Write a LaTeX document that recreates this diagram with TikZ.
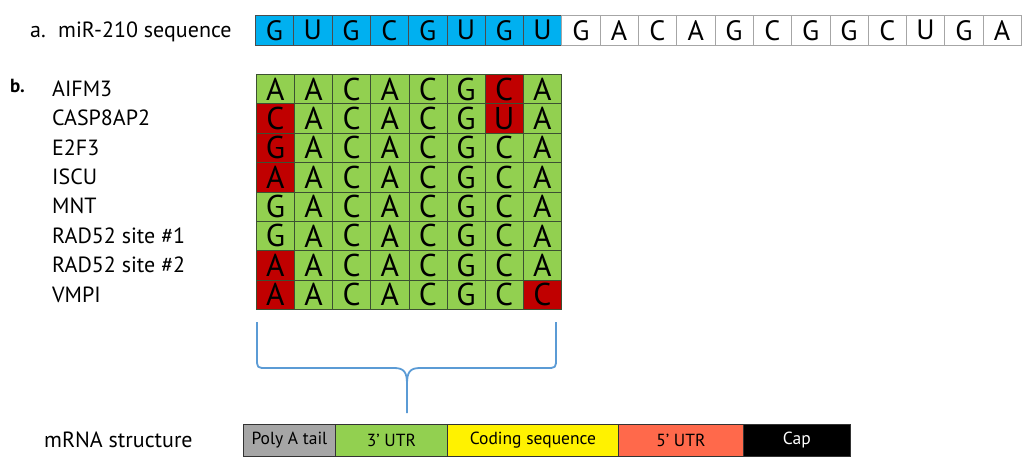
\documentclass[tikz,border=0pt]{standalone}
\usepackage{fontspec}
\setmainfont{PT Sans}
\definecolor{seqblue}{RGB}{0,176,240}
\definecolor{cellgreen}{RGB}{146,208,80}
\definecolor{cellred}{RGB}{192,0,0}
\definecolor{gridline}{RGB}{60,80,50}
\definecolor{tailgrey}{RGB}{166,166,166}
\definecolor{utrorange}{RGB}{255,105,75}
\definecolor{bracketblue}{RGB}{91,155,213}
\begin{document}
\begin{tikzpicture}[x=1pt,y=-1pt,
  seqcell/.style={draw=#1, line width=0.6pt, minimum width=38.3pt, minimum height=30pt, inner sep=0pt, anchor=north west, font=\fontsize{28}{28}\selectfont},
  gridcell/.style={draw=gridline, line width=0.7pt, fill=#1, minimum width=38.125pt, minimum height=29.375pt, inner sep=0pt, anchor=north west, font=\fontsize{31.5}{31.5}\selectfont},
  labeltext/.style={anchor=west, inner sep=0pt, font=\fontsize{22}{24}\selectfont},
  segbox/.style={draw=black!80, line width=0.8pt, fill=#1, minimum height=32pt, inner sep=0pt, anchor=north west, font=\fontsize{17.5}{19}\selectfont},
  bracket/.style={draw=bracketblue, line width=1.8pt, line join=round}
]
\useasboundingbox (0,0) rectangle (1024,464);
% (a) miR-210 sequence
\node[labeltext] (alabel) at (30,32) {a.};
\node[labeltext] (seqlabel) at (58,32) {miR-210 sequence};
\foreach \l [count=\i from 0] in {G,U,G,C,G,U,G,U}{
  \node[seqcell=black!70, fill=seqblue] (s\i) at ({255+\i*38.3},15) {\l};
}
\foreach \l [count=\i from 8] in {G,A,C,A,G,C,G,G,C,U,G,A}{
  \node[seqcell=black!35, fill=white] (s\i) at ({255+\i*38.3},15) {\l};
}
% (b) gene table
\node[anchor=west, inner sep=0pt, font=\fontsize{19}{20}\selectfont\bfseries] (blabel) at (10,86) {b.};
\foreach \g [count=\j from 0] in {AIFM3,CASP8AP2,E2F3,ISCU,MNT,RAD52 site \#1,RAD52 site \#2,VMPI}{
  \node[labeltext] (gene\j) at (52,{74+\j*29.375+14.7}) {\g};
}
\def\cellrow#1#2{%
  \foreach \l/\c [count=\i from 0] in {#2}{
    \node[gridcell=\c] (c#1\i) at ({256+\i*38.125},{74+#1*29.375}) {\l};
  }}
\cellrow{0}{A/cellgreen,A/cellgreen,C/cellgreen,A/cellgreen,C/cellgreen,G/cellgreen,C/cellred,A/cellgreen}
\cellrow{1}{C/cellred,A/cellgreen,C/cellgreen,A/cellgreen,C/cellgreen,G/cellgreen,U/cellred,A/cellgreen}
\cellrow{2}{G/cellred,A/cellgreen,C/cellgreen,A/cellgreen,C/cellgreen,G/cellgreen,C/cellgreen,A/cellgreen}
\cellrow{3}{A/cellred,A/cellgreen,C/cellgreen,A/cellgreen,C/cellgreen,G/cellgreen,C/cellgreen,A/cellgreen}
\cellrow{4}{G/cellgreen,A/cellgreen,C/cellgreen,A/cellgreen,C/cellgreen,G/cellgreen,C/cellgreen,A/cellgreen}
\cellrow{5}{G/cellgreen,A/cellgreen,C/cellgreen,A/cellgreen,C/cellgreen,G/cellgreen,C/cellgreen,A/cellgreen}
\cellrow{6}{A/cellred,A/cellgreen,C/cellgreen,A/cellgreen,C/cellgreen,G/cellgreen,C/cellgreen,A/cellgreen}
\cellrow{7}{A/cellred,A/cellgreen,C/cellgreen,A/cellgreen,C/cellgreen,G/cellgreen,C/cellgreen,C/cellred}
% brace
\coordinate (bl) at (257,322);
\coordinate (br) at (556,322);
\coordinate (btip) at (407,413);
\draw[bracket] (bl) -- (257,358) .. controls (257,368) .. (267,368) -- (394,368)
  .. controls (404,368) and (407,372) .. (407,384) -- (btip);
\draw[bracket] (br) -- (556,358) .. controls (556,368) .. (546,368) -- (420,368)
  .. controls (410,368) and (407,372) .. (407,384);
% mRNA structure
\node[labeltext] (mlabel) at (44,440) {mRNA structure};
\node[segbox=tailgrey, minimum width=92pt] (tail) at (243,424) {Poly A tail};
\node[segbox=cellgreen, minimum width=112pt] (utr3) at (335,424) {3’ UTR};
\node[segbox=yellow, minimum width=171pt] (cds) at (447,424) {Coding sequence};
\node[segbox=utrorange, minimum width=125pt] (utr5) at (618,424) {5’ UTR};
\node[segbox=black, minimum width=107pt, text=white] (cap) at (743,424) {Cap};
\end{tikzpicture}
\end{document}
